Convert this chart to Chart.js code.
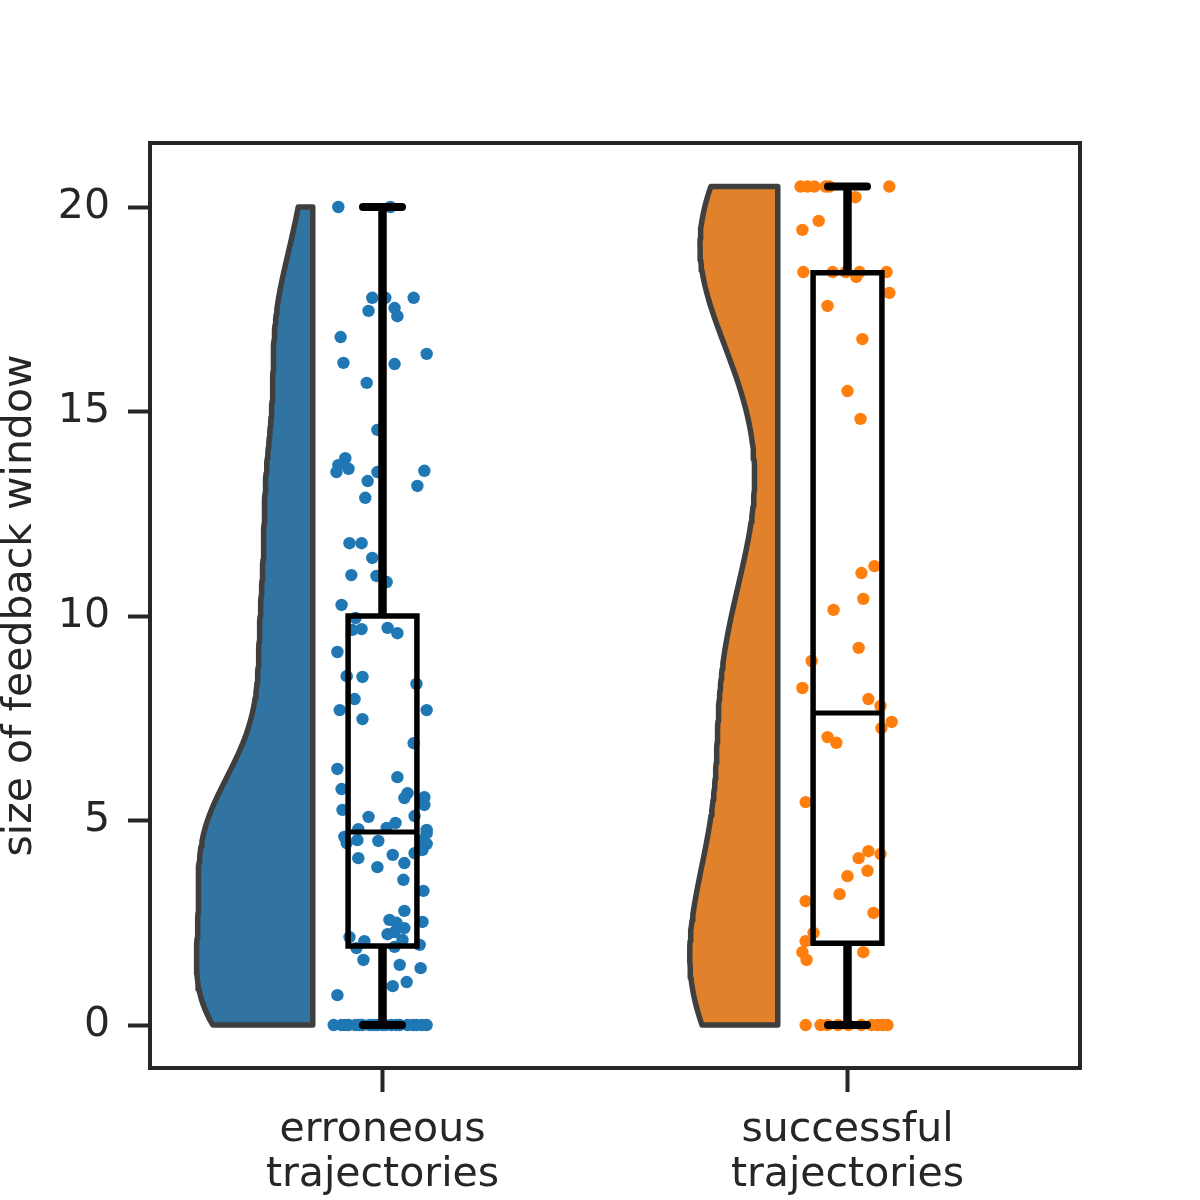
<!DOCTYPE html>
<html>
<head>
<meta charset="utf-8">
<script src="https://cdn.jsdelivr.net/npm/chart.js@4.4.1/dist/chart.umd.min.js"></script>
<style>
  html, body { margin: 0; padding: 0; background: #ffffff; }
  #wrap { width: 1200px; height: 1200px; }
</style>
</head>
<body>
<div id="wrap"><canvas id="rainCloud" width="1200" height="1200"></canvas></div>
<script>
//---------------------------data---------------------------
var categories = [["erroneous", "trajectories"], ["successful", "trajectories"]];
var yTicks = [0, 5, 10, 15, 20];

var erroneousValues = [
  20.0, 20.0, 17.78, 17.78, 17.78, 17.46, 17.53, 17.33, 16.82, 16.41, 16.19, 16.16, 15.7,
  14.55, 13.86, 13.69, 13.6, 13.52, 13.52, 13.55, 13.3, 13.18, 12.89, 11.78, 11.78, 11.42,
  11.0, 10.98, 10.83, 10.27, 9.95, 9.66, 9.68, 9.71, 9.58, 9.12, 8.53, 8.51, 8.34, 7.97,
  7.7, 7.7, 7.48, 6.89, 6.26, 6.06, 5.77, 5.67, 5.55, 5.57, 5.38, 5.26, 5.09, 5.11,
  4.79, 4.82, 4.94, 4.77, 4.6, 4.45, 4.52, 4.5, 4.69, 4.52, 4.43, 4.28, 4.2, 4.08, 4.16,
  3.86, 3.96, 3.55, 3.28, 2.79, 2.57, 2.5, 2.37, 2.52, 2.22, 2.27, 2.15, 2.05, 2.08,
  1.88, 1.91, 1.96, 1.59, 1.47, 1.39, 0.95, 1.05, 0.73,
  0, 0, 0, 0, 0, 0, 0, 0, 0, 0, 0, 0, 0,
  0, 0, 0, 0, 0, 0, 0
];
// horizontal strip jitter (category units)
var erroneousJitter = [
  -0.095, 0.017, -0.022, 0.006, 0.067, -0.030, 0.026, 0.032, -0.090, 0.095, -0.084, 0.026, -0.034,
  -0.011, -0.080, -0.095, -0.073, -0.099, -0.011, 0.090, -0.032, 0.075, -0.037, -0.071, -0.045, -0.022,
  -0.067, -0.013, 0.009, -0.088, -0.058, -0.065, -0.045, 0.011, 0.032, -0.097, -0.077, -0.043, 0.073, -0.060,
  -0.092, 0.095, -0.043, 0.067, -0.097, 0.032, -0.088, 0.054, 0.047, 0.090, 0.090, -0.086, -0.030, 0.069,
  -0.052, 0.009, 0.028, 0.095, -0.082, -0.077, -0.054, -0.009, 0.095, 0.086, 0.095, 0.086, 0.069, -0.052, 0.022,
  -0.011, 0.047, 0.045, 0.088, 0.047, 0.015, 0.030, 0.047, 0.086, 0.011, 0.026, -0.071, -0.039, 0.043,
  -0.056, 0.026, 0.080, -0.041, 0.037, 0.082, 0.022, 0.052, -0.097,
  -0.105, -0.088, -0.073, -0.058, -0.043, -0.028, -0.011, 0.006, 0.019, 0.037, 0.054, 0.073, 0.095,
  -0.080, -0.050, -0.020, 0.000, 0.030, 0.065, 0.085
];

var successfulValues = [
  20.5, 20.5, 20.5, 20.5, 20.5, 20.5, 20.24, 19.66, 19.44,
  18.41, 18.41, 18.41, 18.41, 18.41, 18.29, 17.9, 17.58, 16.77, 15.5, 14.82,
  11.22, 11.05, 10.42, 10.15, 9.22, 8.9, 8.24, 7.97, 7.8, 7.41, 7.26, 7.04, 6.9,
  5.45, 4.25, 4.18, 4.08, 3.77, 3.64, 3.2, 3.03, 2.74, 2.25, 2.05, 1.78, 1.78, 1.59,
  0, 0, 0, 0, 0, 0, 0, 0,
  0, 0
];
var successfulJitter = [
  -0.101, -0.086, -0.071, -0.047, -0.039, 0.090, 0.017, -0.062, -0.097,
  -0.095, -0.032, -0.004, 0.026, 0.084, 0.019, 0.090, -0.043, 0.032, 0.000, 0.028,
  0.058, 0.030, 0.034, -0.030, 0.024, -0.077, -0.097, 0.045, 0.071, 0.095, 0.073, -0.043, -0.024,
  -0.090, 0.045, 0.071, 0.024, 0.043, 0.000, -0.017, -0.090, 0.056, -0.073, -0.090, -0.097, 0.034, -0.088,
  -0.090, -0.058, -0.043, 0.002, 0.030, 0.052, 0.075, 0.086,
  -0.020, 0.065
];

// box plot summary
var boxLow = [0, 0];
var boxQ1 = [1.93, 2.0];
var boxMedian = [4.72, 7.63];
var boxQ3 = [10.0, 18.39];
var boxHigh = [20.0, 20.5];

//---------------------------style---------------------------
var violinFill = ["#3274a1", "#e1812c"];
var pointColor = ["#1f77b4", "#ff7f0e"];
var inkColor = "#262626";
var fontFamily = "'DejaVu Sans', sans-serif";
var bwFactor = 0.28;
var violinOffset = -0.15;
var violinMaxWidth = 0.25;
var boxHalf = 0.074;
var capHalf = 0.042;

document.addEventListener('DOMContentLoaded', function () {
  insertRainCloud();
});

function stdDev(values) {
  var mean = 0;
  values.forEach(function (v) { mean += v; });
  mean = mean / values.length;
  var s = 0;
  values.forEach(function (v) { s += (v - mean) * (v - mean); });
  return Math.sqrt(s / (values.length - 1));
}

function density(values, bw, y) {
  var sum = 0;
  for (var i = 0; i < values.length; i++) {
    var z = (y - values[i]) / bw;
    sum += Math.exp(-0.5 * z * z);
  }
  return sum / (values.length * bw * Math.sqrt(2 * Math.PI));
}

function kdeCurve(values) {
  var bw = bwFactor * stdDev(values);
  var lo = Math.min.apply(null, values);
  var hi = Math.max.apply(null, values);
  var curve = [];
  var steps = 160;
  for (var i = 0; i <= steps; i++) {
    var y = lo + (hi - lo) * i / steps;
    curve.push({ y: y, d: density(values, bw, y) });
  }
  return curve;
}

function segment(points, width, cap) {
  return {
    type: "scatter",
    data: points,
    showLine: true,
    borderColor: "#000000",
    borderWidth: width,
    borderCapStyle: cap || "butt",
    borderJoinStyle: "miter",
    pointRadius: 0,
    fill: false,
    tension: 0,
    order: 1
  };
}

function insertRainCloud() {
  var groups = [erroneousValues, successfulValues];
  var jitters = [erroneousJitter, successfulJitter];
  var curves = groups.map(kdeCurve);

  var maxDensity = 0;
  curves.forEach(function (c) {
    c.forEach(function (p) { if (p.d > maxDensity) maxDensity = p.d; });
  });

  var datasets = [];

  // half violins
  curves.forEach(function (curve, g) {
    var edge = g + violinOffset;
    var outline = [{ x: edge, y: curve[0].y }];
    curve.forEach(function (p) {
      outline.push({ x: edge - p.d / maxDensity * violinMaxWidth, y: p.y });
    });
    outline.push({ x: edge, y: curve[curve.length - 1].y });
    outline.push({ x: edge, y: curve[0].y });
    datasets.push({
      type: "scatter",
      data: outline,
      showLine: true,
      fill: "shape",
      backgroundColor: violinFill[g],
      borderColor: "#3f3f3f",
      borderWidth: 5.5,
      borderJoinStyle: "round",
      pointRadius: 0,
      tension: 0,
      order: 3
    });
  });

  // rain points
  groups.forEach(function (values, g) {
    datasets.push({
      type: "scatter",
      data: values.map(function (v, i) { return { x: g + jitters[g][i], y: v }; }),
      backgroundColor: pointColor[g],
      borderWidth: 0,
      pointRadius: 6.2,
      pointHoverRadius: 6.2,
      order: 2
    });
  });

  // boxes
  for (var g = 0; g < 2; g++) {
    datasets.push(segment([
      { x: g - boxHalf, y: boxQ1[g] }, { x: g + boxHalf, y: boxQ1[g] },
      { x: g + boxHalf, y: boxQ3[g] }, { x: g - boxHalf, y: boxQ3[g] },
      { x: g - boxHalf, y: boxQ1[g] }, { x: g + boxHalf, y: boxQ1[g] }
    ], 5.5));
    datasets.push(segment([{ x: g - boxHalf, y: boxMedian[g] }, { x: g + boxHalf, y: boxMedian[g] }], 5));
    datasets.push(segment([{ x: g, y: boxQ3[g] }, { x: g, y: boxHigh[g] }], 8.5));
    datasets.push(segment([{ x: g, y: boxQ1[g] }, { x: g, y: boxLow[g] }], 8.5));
    datasets.push(segment([{ x: g - capHalf, y: boxHigh[g] }, { x: g + capHalf, y: boxHigh[g] }], 8, "round"));
    datasets.push(segment([{ x: g - capHalf, y: boxLow[g] }, { x: g + capHalf, y: boxLow[g] }], 8, "round"));
  }

  var framePlugin = {
    id: "frame",
    afterDraw: function (chart) {
      var a = chart.chartArea;
      var ctx = chart.ctx;
      ctx.save();
      ctx.strokeStyle = inkColor;
      ctx.lineWidth = 4;
      ctx.strokeRect(a.left, a.top, a.right - a.left, a.bottom - a.top);
      ctx.restore();
    }
  };

  new Chart(document.getElementById("rainCloud"), {
    type: "scatter",
    data: { datasets: datasets },
    options: {
      responsive: false,
      devicePixelRatio: 1,
      animation: false,
      events: [],
      layout: { padding: { top: 143, right: 120, left: 0, bottom: 0 } },
      plugins: { legend: { display: false }, tooltip: { enabled: false } },
      scales: {
        x: {
          type: "linear",
          min: -0.5,
          max: 1.5,
          afterBuildTicks: function (scale) {
            scale.ticks = [{ value: 0 }, { value: 1 }];
          },
          afterFit: function (scale) { scale.height = 132; },
          border: { display: false },
          grid: { drawOnChartArea: false, drawTicks: true, tickLength: 24, tickWidth: 4, tickColor: inkColor },
          ticks: {
            color: inkColor,
            padding: 16,
            font: { family: fontFamily, size: 41, lineHeight: 1.1 },
            callback: function (value) { return categories[value]; }
          }
        },
        y: {
          type: "linear",
          min: -1.051,
          max: 21.565,
          afterBuildTicks: function (scale) {
            scale.ticks = yTicks.map(function (v) { return { value: v }; });
          },
          afterFit: function (scale) { scale.width = 150; },
          border: { display: false },
          grid: { drawOnChartArea: false, drawTicks: true, tickLength: 22, tickWidth: 4, tickColor: inkColor },
          ticks: {
            color: inkColor,
            padding: 18,
            font: { family: fontFamily, size: 41 }
          },
          title: {
            display: true,
            text: "size of feedback window",
            color: inkColor,
            padding: 0,
            font: { family: fontFamily, size: 41, lineHeight: 1.0 }
          }
        }
      }
    },
    plugins: [framePlugin]
  });
}
</script>
</body>
</html>
